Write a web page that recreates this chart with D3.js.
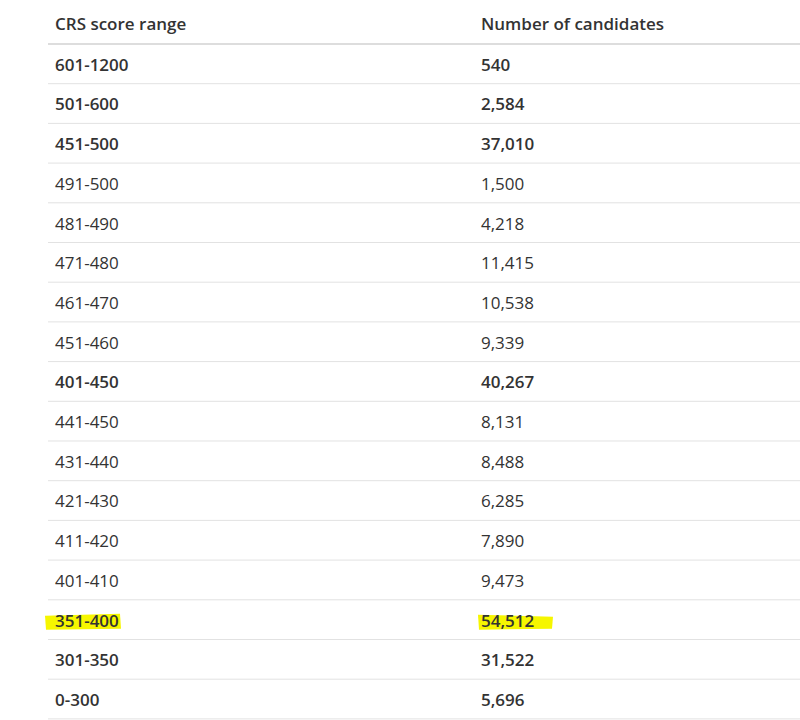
<!DOCTYPE html>
<html><head><meta charset="utf-8">
<script src="https://cdn.jsdelivr.net/npm/d3@7"></script>
<style>body{margin:0;background:#fff}</style>
</head><body>
<script>
var headers = ["CRS score range", "Number of candidates"];
var ranges = ["601-1200","501-600","451-500","491-500","481-490","471-480","461-470","451-460","401-450","441-450","431-440","421-430","411-420","401-410","351-400","301-350","0-300"];
var counts = ["540","2,584","37,010","1,500","4,218","11,415","10,538","9,339","40,267","8,131","8,488","6,285","7,890","9,473","54,512","31,522","5,696"];
var bold = [1,1,1,0,0,0,0,0,1,0,0,0,0,0,1,1,1];
var highlighted = "351-400";

var w = 800, h = 720,
  rowH = 39.7,
  x1 = 55, x2 = 481;

var svg = d3.select("body").append("svg").attr("width", w).attr("height", h)
  .style("font-family", "'Open Sans', sans-serif").style("font-size", "17px");

var y = d3.scaleBand().domain(ranges).range([44, 44 + rowH * ranges.length]);

// highlight marks
var hi = y(highlighted) + y.bandwidth() / 2;
svg.append("path").attr("d", "M45," + (hi - 4) + "L120," + (hi - 6) + "L121," + (hi + 9) + "L46," + (hi + 10) + "Z").attr("fill", "#f6f600");
svg.append("path").attr("d", "M478," + (hi - 5) + "L553," + (hi - 3) + "L552," + (hi + 9) + "L479," + (hi + 10) + "Z").attr("fill", "#f6f600");

// header
svg.selectAll("text.h").data(headers).enter().append("text").attr("class", "h")
  .attr("x", function (d, i) { return i ? x2 : x1; }).attr("y", 24).attr("dy", "0.35em")
  .attr("fill", "#333").attr("font-weight", 600).text(function (d) { return d; });
svg.append("line").attr("x1", 48).attr("x2", w).attr("y1", 44).attr("y2", 44)
  .attr("stroke", "#ddd").attr("stroke-width", 2);

var rows = svg.selectAll("g.row").data(ranges).enter().append("g").attr("class", "row")
  .attr("transform", function (d) { return "translate(0," + y(d) + ")"; });
rows.append("line").attr("x1", 48).attr("x2", w).attr("y1", rowH).attr("y2", rowH)
  .attr("stroke", "#e2e2e2");
rows.append("text").attr("x", x1).attr("y", rowH / 2 + 1).attr("dy", "0.35em")
  .attr("fill", "#333").attr("font-weight", function (d, i) { return bold[i] ? 600 : 400; })
  .text(function (d) { return d; });
rows.append("text").attr("x", x2).attr("y", rowH / 2 + 1).attr("dy", "0.35em")
  .attr("fill", "#333").attr("font-weight", function (d, i) { return bold[i] ? 600 : 400; })
  .text(function (d, i) { return counts[i]; });
</script>
</body></html>
